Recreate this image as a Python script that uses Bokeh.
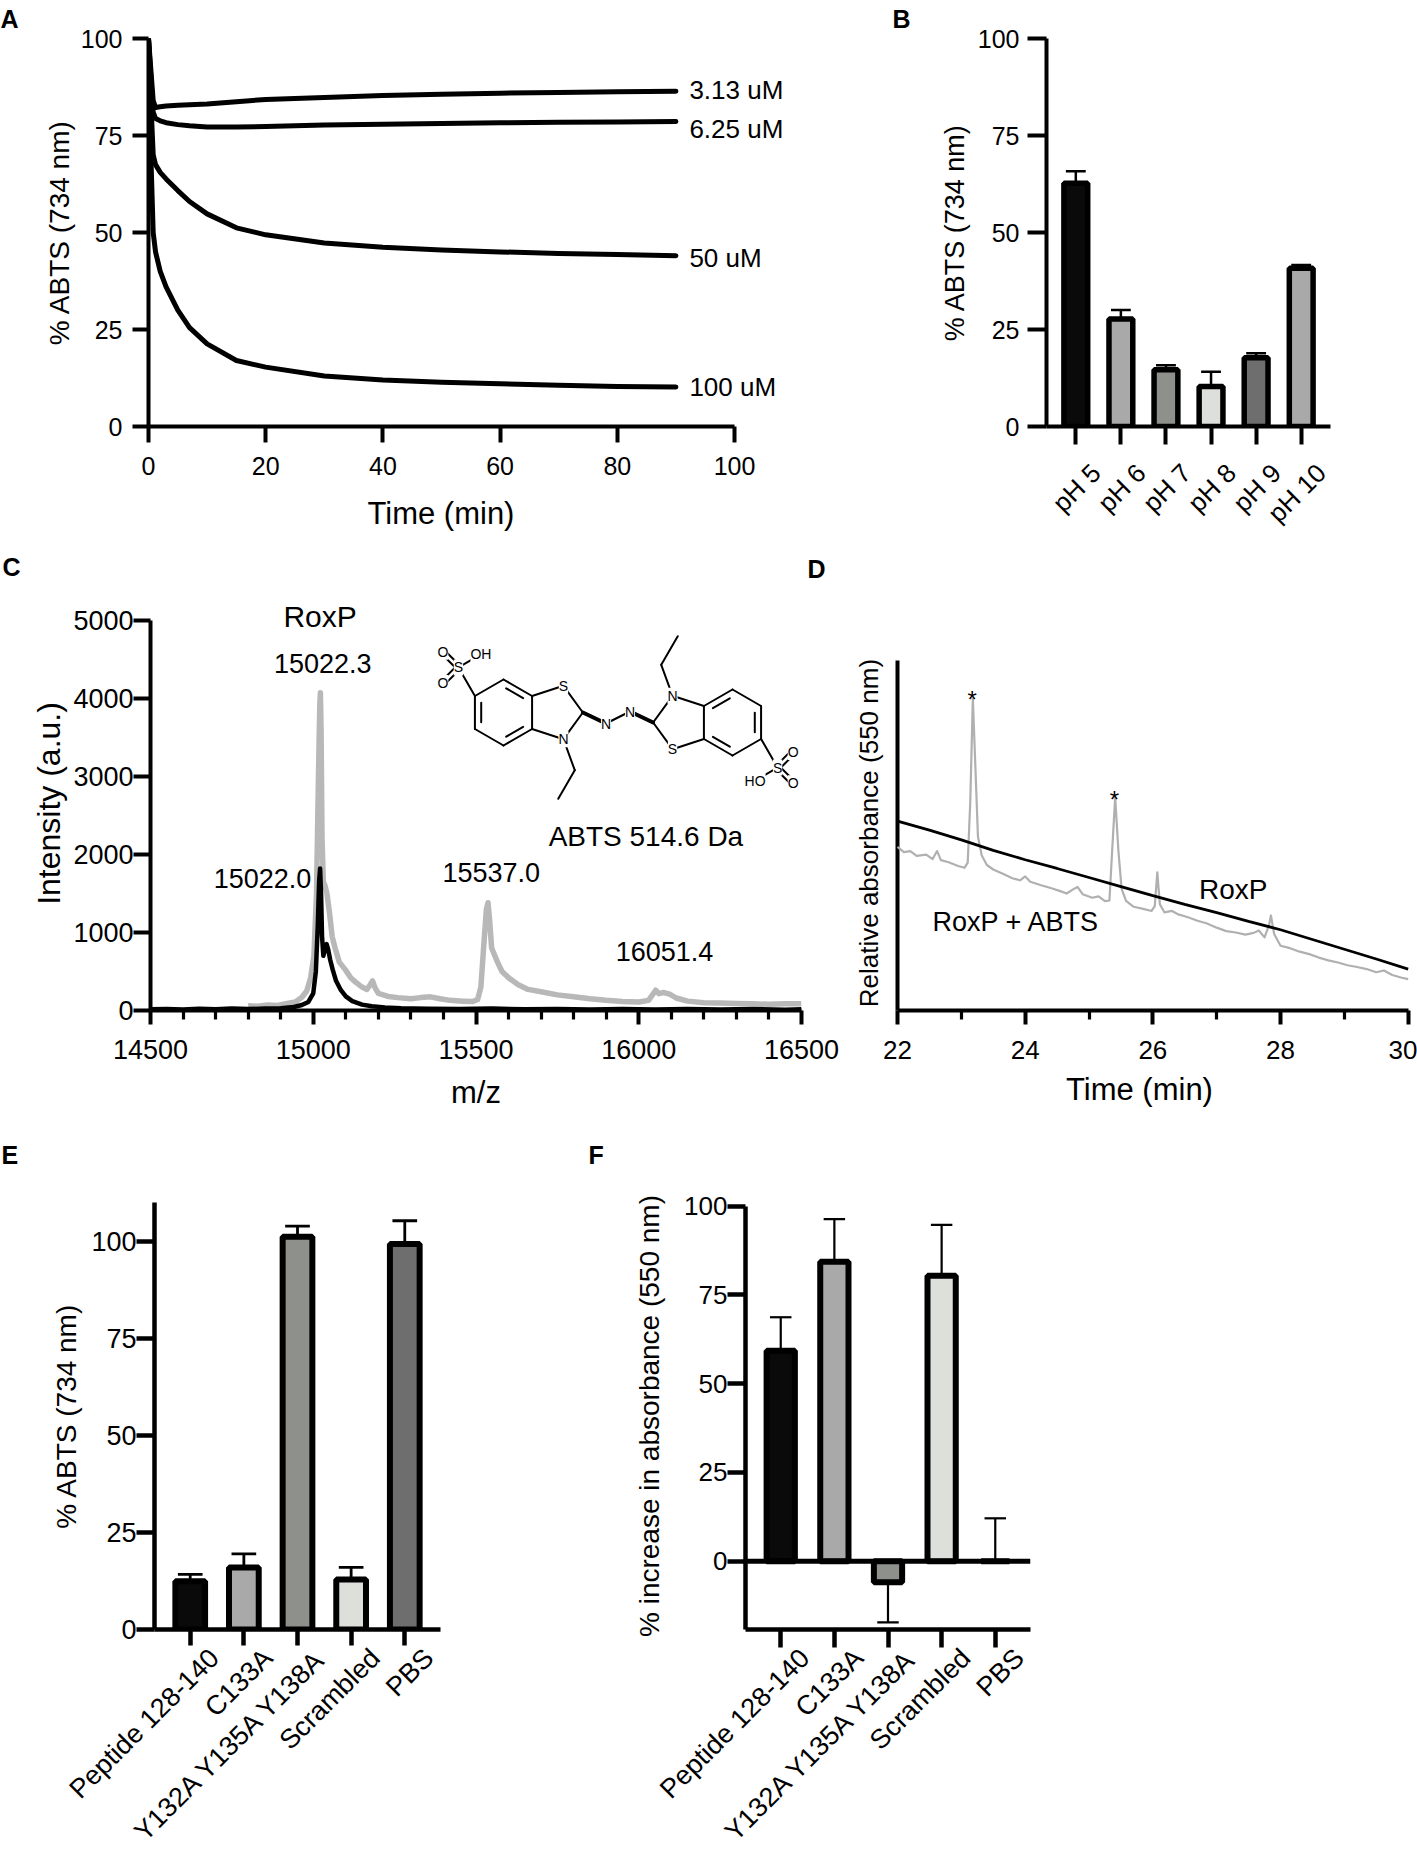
import math
from bokeh.plotting import figure
from bokeh.models import Range1d, FixedTicker, Label, Span, Title, LinearAxis
from bokeh.layouts import column, row
from bokeh.embed import file_html
from bokeh.resources import INLINE

FONT = "Liberation Sans"

# ---------------- data ----------------
# Panel A
a_time = [0, 0.4, 0.8, 1.2, 2, 3, 5, 7, 10, 15, 20, 30, 40, 50, 60, 70, 80, 90]
a_3_13uM = [100, 92, 84, 82.2, 82.4, 82.6, 82.8, 82.9, 83.1, 83.7, 84.3, 84.8, 85.3, 85.6, 85.9, 86.1, 86.3, 86.4]
a_6_25uM = [100, 90, 81, 79.4, 78.8, 78.3, 77.8, 77.5, 77.2, 77.2, 77.3, 77.7, 77.9, 78.1, 78.3, 78.4, 78.5, 78.6]
a_50uM = [100, 84, 70, 67.5, 65.5, 63.8, 60.8, 58.0, 54.8, 51.2, 49.4, 47.3, 46.2, 45.5, 45.0, 44.6, 44.3, 44.0]
a_100uM = [100, 70, 50, 45, 40, 36, 30, 25.5, 21.3, 17.0, 15.3, 13.0, 12.0, 11.4, 11.0, 10.6, 10.3, 10.2]
a_series = [a_3_13uM, a_6_25uM, a_50uM, a_100uM]
a_names = ["3.13 uM", "6.25 uM", "50 uM", "100 uM"]
a_name_y = [86.8, 76.7, 43.4, 10.3]
a_name_x = 92.3

# Panel B
b_cats = ["pH 5", "pH 6", "pH 7", "pH 8", "pH 9", "pH 10"]
b_vals = [62.7, 27.7, 14.6, 10.3, 17.7, 40.8]
b_err_end = [65.8, 30.0, 15.8, 14.1, 18.9, 41.6]
b_colors = ["#0a0a0a", "#a9a9a9", "#8e908b", "#dcdfda", "#6e6e6e", "#a9a9a9"]

# Panel C (mass spectra)
c_gray_mz = [14800, 14830, 14860, 14890, 14920, 14945, 14965, 14980, 14992, 15002, 15010, 15016, 15020, 15022,
             15024, 15027, 15031, 15036, 15042, 15050, 15058, 15067, 15080, 15099, 15115, 15131, 15150, 15165,
             15175, 15182, 15190, 15200, 15230, 15260, 15300, 15330, 15360, 15390, 15420, 15460, 15490, 15505,
             15515, 15525, 15532, 15537, 15542, 15548, 15556, 15566, 15580, 15600, 15630, 15660, 15700, 15750,
             15800, 15850, 15900, 15950, 16000, 16030, 16042, 16052, 16062, 16075, 16095, 16115, 16150, 16200,
             16250, 16300, 16350, 16400, 16450, 16500]
c_gray_int = [60, 55, 70, 65, 90, 110, 170, 250, 420, 700, 1500, 3000, 3900, 4070,
              3600, 2200, 1650, 1600, 1500, 1250, 950, 800, 620, 520, 420, 360, 300, 270,
              330, 380, 290, 220, 180, 165, 150, 165, 175, 150, 130, 120, 115, 140,
              300, 900, 1300, 1380, 1150, 800, 720, 620, 500, 420, 330, 270, 240, 200,
              175, 150, 130, 115, 110, 130, 200, 260, 215, 230, 210, 160, 120, 100,
              95, 90, 85, 80, 88, 85]
c_black_mz = [14500, 14550, 14600, 14650, 14700, 14750, 14800, 14850, 14900, 14940, 14965, 14985, 15000, 15008,
              15014, 15018, 15021, 15024, 15027, 15031, 15036, 15041, 15046, 15052, 15060, 15070, 15085, 15100,
              15120, 15150, 15180, 15220, 15270, 15350, 15450, 15550, 15650, 15750, 15850, 15950, 16050, 16150,
              16250, 16350, 16450, 16500]
c_black_int = [15, 20, 12, 22, 15, 25, 18, 25, 30, 45, 70, 110, 220, 500,
               1100, 1650, 1820, 1500, 950, 700, 780, 850, 780, 650, 520, 380, 260, 180,
               120, 75, 55, 40, 30, 22, 18, 25, 15, 20, 12, 18, 14, 20,
               12, 18, 10, 15]
c_peak_text = ["15022.3", "15022.0", "15537.0", "16051.4"]
c_peak_mz = [15029, 14844, 15547, 16079]
c_peak_int = [4450, 1690, 1770, 754]

# Panel D (chromatograms)
d_roxp_t = [22.0, 22.5, 23.0, 23.5, 24.0, 24.5, 25.0, 25.5, 26.0, 26.5, 27.0, 27.5, 28.0, 28.5, 29.0, 29.5, 30.0]
d_roxp_v = [54.4, 51.8, 49.0, 46.0, 43.3, 40.8, 38.2, 35.6, 33.0, 30.5, 28.1, 25.6, 23.2, 20.4, 17.6, 14.8, 11.9]
d_abts_t = [22.00, 22.10, 22.20, 22.30, 22.45, 22.55, 22.62, 22.68, 22.80, 22.95, 23.05, 23.10, 23.14, 23.18,
            23.22, 23.26, 23.32, 23.40, 23.50, 23.65, 23.80, 23.92, 24.00, 24.08, 24.25, 24.40, 24.55, 24.65,
            24.75, 24.82, 24.90, 25.05, 25.15, 25.25, 25.32, 25.36, 25.41, 25.46, 25.51, 25.58, 25.70, 25.85,
            25.98, 26.03, 26.07, 26.11, 26.18, 26.30, 26.40, 26.55, 26.70, 26.85, 27.00, 27.15, 27.30, 27.45,
            27.58, 27.66, 27.75, 27.82, 27.85, 27.90, 28.00, 28.15, 28.30, 28.45, 28.60, 28.75, 28.90, 29.05,
            29.20, 29.35, 29.50, 29.62, 29.75, 29.90, 30.00]
d_abts_v = [47.0, 45.5, 45.8, 44.4, 44.8, 43.5, 45.8, 43.2, 42.6, 41.5, 41.0, 42.5, 60.0, 89.7,
            70.0, 50.0, 44.5, 41.8, 40.5, 39.3, 38.0, 37.4, 38.5, 37.0, 36.0, 35.2, 34.3, 33.6,
            34.8, 35.5, 33.4, 32.4, 32.8, 31.4, 31.6, 45.0, 61.3, 46.0, 35.0, 31.5, 29.8, 29.2,
            28.6, 30.0, 39.7, 30.5, 28.2, 28.6, 27.6, 26.8, 25.8, 25.0, 23.8, 22.8, 22.4, 21.8,
            22.3, 23.0, 21.0, 24.5, 27.3, 22.0, 18.6, 17.9, 16.9, 16.2, 15.2, 14.4, 13.8, 13.0,
            12.5, 11.9, 11.0, 11.5, 10.2, 9.4, 9.0]
d_axis_top = 100
d_star_t = [23.17, 25.40]
d_star_v = [89.3, 60.7]

# Panels E and F
ef_cats = ["Peptide 128-140", "C133A", "Y132A Y135A Y138A", "Scrambled", "PBS"]
ef_colors = ["#0a0a0a", "#a9a9a9", "#8e908b", "#dcdfda", "#6e6e6e"]
e_vals = [12.4, 16.0, 101.2, 12.9, 99.3]
e_err_end = [14.2, 19.5, 103.9, 16.0, 105.3]
f_vals = [59.3, 84.3, -5.9, 80.4, 0.0]
f_err_end = [68.7, 96.3, -17.2, 94.7, 12.1]

# ---------------- helpers ----------------
GEOM = {}


def make_fig(name, fx, fy, W, H, L, T, Rb, Bb, xr, yr):
    p = figure(width=W, height=H, x_range=Range1d(*xr), y_range=Range1d(*yr),
               min_border_left=L, min_border_top=T, min_border_right=Rb, min_border_bottom=Bb,
               toolbar_location=None, tools="", output_backend="svg", title=None)
    p.outline_line_color = None
    p.xgrid.visible = False
    p.ygrid.visible = False
    p.background_fill_color = "white"
    p.border_fill_color = "white"
    GEOM[name] = dict(fx=fx, fy=fy, L=L, T=T, R=W - Rb, B=H - Bb, xr=xr, yr=yr)
    return p


def ref2data(name, rx, ry):
    g = GEOM[name]
    px, py = rx - g["fx"], ry - g["fy"]
    x = g["xr"][0] + (px - g["L"]) / (g["R"] - g["L"]) * (g["xr"][1] - g["xr"][0])
    y = g["yr"][1] - (py - g["T"]) / (g["B"] - g["T"]) * (g["yr"][1] - g["yr"][0])
    return x, y


def style_axis(ax, lw=4, tick_out=16, tick_size=25, label_size=28, lab_std=10, label_std=8, minor_out=0):
    ax.axis_line_width = lw
    ax.axis_line_color = "black"
    ax.major_tick_line_width = lw
    ax.major_tick_line_color = "black"
    ax.major_tick_in = 0
    ax.major_tick_out = tick_out
    if minor_out:
        ax.minor_tick_line_width = lw * 0.8
        ax.minor_tick_line_color = "black"
        ax.minor_tick_in = 0
        ax.minor_tick_out = minor_out
    else:
        ax.minor_tick_line_color = None
    ax.major_label_text_font = FONT
    ax.major_label_text_font_size = f"{tick_size}px"
    ax.major_label_text_color = "black"
    ax.major_label_standoff = lab_std
    ax.axis_label_text_font = FONT
    ax.axis_label_text_font_size = f"{label_size}px"
    ax.axis_label_text_font_style = "normal"
    ax.axis_label_text_color = "black"
    ax.axis_label_standoff = label_std


def add_text(p, x, y, text, size, align="center", baseline="middle", bold=False, bg=None, angle=0):
    kw = {}
    if bg:
        kw["background_fill_color"] = bg
    p.add_layout(Label(x=x, y=y, text=text, text_font=FONT, text_font_size=f"{size}px",
                       text_align=align, text_baseline=baseline, text_color="black", angle=angle,
                       text_font_style="bold" if bold else "normal", **kw))


def bars(p, vals, ends, colors, width, lw, cap_half, err_lw):
    idx = list(range(len(vals)))
    p.vbar(x=idx, top=vals, bottom=0, width=width, fill_color=colors, line_color="black", line_width=lw)
    p.segment(x0=idx, y0=vals, x1=idx, y1=ends, line_color="black", line_width=err_lw)
    p.segment(x0=[i - cap_half for i in idx], y0=ends, x1=[i + cap_half for i in idx], y1=ends,
              line_color="black", line_width=err_lw)


def category_axes(p, cats, lw, tick_out, size, std, shift=0.45):
    idx = list(range(len(cats)))
    ax = p.xaxis[0]
    # tick marks at the bar centres (drawn as minor ticks so that this axis carries no labels)
    ax.ticker = FixedTicker(ticks=[], minor_ticks=idx)
    ax.axis_line_width = lw
    ax.axis_line_color = "black"
    ax.major_tick_line_color = None
    ax.minor_tick_line_color = "black"
    ax.minor_tick_line_width = lw
    ax.minor_tick_in = 0
    ax.minor_tick_out = tick_out
    ax.major_tick_out = 0
    ax.major_label_standoff = 0
    pos = [round(i + shift, 2) for i in idx]
    ax2 = LinearAxis(ticker=FixedTicker(ticks=pos),
                     major_label_overrides={v: c for v, c in zip(pos, cats)})
    ax2.axis_line_color = None
    ax2.major_tick_line_color = None
    ax2.minor_tick_line_color = None
    ax2.major_tick_out = 0
    ax2.major_tick_in = 0
    ax2.major_label_orientation = math.pi / 4
    ax2.major_label_text_font = FONT
    ax2.major_label_text_font_size = f"{size}px"
    ax2.major_label_text_color = "black"
    ax2.major_label_standoff = std
    p.add_layout(ax2, "below")


def letter_title(p, text, offset):
    p.add_layout(Title(text=text, align="left", offset=offset, standoff=8, vertical_align="top",
                       text_font=FONT, text_font_size="25px", text_font_style="bold",
                       text_color="black"), "above")


def below_title(p, text, offset, standoff, size, valign):
    p.add_layout(Title(text=text, align="left", offset=offset, standoff=standoff, vertical_align=valign,
                       text_font=FONT, text_font_size=f"{size}px", text_font_style="normal",
                       text_color="black"), "below")


def strip(H, items):
    p = figure(width=1417, height=H, x_range=Range1d(0, 1417), y_range=Range1d(H, 0),
               min_border=0, toolbar_location=None, tools="", output_backend="svg", title=None,
               x_axis_type=None, y_axis_type=None)
    p.outline_line_color = None
    p.background_fill_color = "white"
    p.border_fill_color = "white"
    for t, x, y in items:
        add_text(p, x, y, t, 25, align="left", baseline="top", bold=True)
    return p


# ---------------- Panel A ----------------
pA = make_fig("A", 0, 0, 870, 554, 148, 36, 70, 128, (0, 111.26), (0, 100))
pA.xaxis.ticker = FixedTicker(ticks=[0, 20, 40, 60, 80, 100])
pA.xaxis.bounds = (0, 100)
pA.yaxis.ticker = FixedTicker(ticks=[0, 25, 50, 75, 100])
pA.yaxis.axis_label = "% ABTS (734 nm)"
style_axis(pA.xaxis[0], tick_out=16, tick_size=25, lab_std=14)
style_axis(pA.yaxis[0], tick_out=16, tick_size=25, label_size=28, lab_std=10, label_std=3)
below_title(pA, "Time (min)", 219, 32, 31, "bottom")
letter_title(pA, "A", -148)
for s in a_series:
    pA.line(a_time, s, line_width=5, line_color="black", line_join="round", line_cap="round")
for name, yy in zip(a_names, a_name_y):
    add_text(pA, a_name_x, yy, name, 26, align="left")

# ---------------- Panel B ----------------
pB = make_fig("B", 870, 0, 547, 554, 176, 36, 87, 128, (-0.65, 5.65), (0, 100))
pB.yaxis.ticker = FixedTicker(ticks=[0, 25, 50, 75, 100])
pB.yaxis.axis_label = "% ABTS (734 nm)"
category_axes(pB, b_cats, 4, 18, 26, 24)
style_axis(pB.yaxis[0], tick_out=19, tick_size=25, label_size=27, lab_std=8, label_std=5)
letter_title(pB, "B", -154)
bars(pB, b_vals, b_err_end, b_colors, 0.528, 5.5, 0.22, 2.5)

# ---------------- strip with letters C, D ----------------
strip2 = strip(34, [("C", 2, -2), ("D", 807, 0)])

# ---------------- Panel C ----------------
pC = make_fig("C", 0, 588, 840, 542, 150, 8, 39, 120, (14500, 16500), (0, 5302))
c_major = [14500, 15000, 15500, 16000, 16500]
c_minor = [m for m in range(14600, 16500, 100) if m % 500 != 0]
pC.xaxis.ticker = FixedTicker(ticks=c_major, minor_ticks=c_minor)
pC.yaxis.ticker = FixedTicker(ticks=[0, 1000, 2000, 3000, 4000, 5000])
pC.yaxis.bounds = (0, 5000)
pC.xaxis.axis_label = "m/z"
pC.yaxis.axis_label = "Intensity (a.u.)"
style_axis(pC.xaxis[0], tick_out=14, minor_out=9, tick_size=27, label_size=31, lab_std=15, label_std=13)
style_axis(pC.yaxis[0], tick_out=17, tick_size=27, label_size=32, lab_std=0, label_std=3)
pC.line(c_gray_mz, c_gray_int, line_width=5.5, line_color="#b8b8b8", line_join="round")
pC.line(c_black_mz, c_black_int, line_width=4.5, line_color="black", line_join="round")
add_text(pC, 15021, 5040, "RoxP", 30)
for t, mz, it in zip(c_peak_text, c_peak_mz, c_peak_int):
    add_text(pC, mz, it, t, 27)
add_text(pC, 16022, 2230, "ABTS 514.6 Da", 28)

# ABTS structure drawing (geometry in reference pixels, mapped to panel C data space)
bond = 33.0
cxL, cyL = 503.0, 712.0
ringL = [(cxL + bond * math.cos(math.radians(a)), cyL - bond * math.sin(math.radians(a)))
         for a in (90, 30, -30, -90, -150, 150)]
apo = bond / (2 * math.tan(math.radians(36)))
circ = bond / (2 * math.sin(math.radians(36)))
pcx = ringL[1][0] + apo


def pent(a):
    return (pcx + circ * math.cos(math.radians(a)), cyL - circ * math.sin(math.radians(a)))


def polar(pnt, ang, r):
    return (pnt[0] + r * math.cos(math.radians(ang)), pnt[1] - r * math.sin(math.radians(ang)))


S1, C2, N1 = pent(72), pent(0), pent(288)
Mid = (617.5, 717.0)
Na = (Mid[0] - 12, Mid[1] + 6)
Nb = (Mid[0] + 12, Mid[1] - 6)
Ssul = polar(ringL[5], 120, bond)
O1 = polar(Ssul, 135, 22)
O2 = polar(Ssul, 225, 22)
OHp = polar(Ssul, 30, 26)
CH2 = polar(N1, -70, bond)
CH3 = polar(CH2, -120, bond)


def refl(pt):
    return (2 * Mid[0] - pt[0], 2 * Mid[1] - pt[1])


def offset_pair(a, b, d):
    dx, dy = b[0] - a[0], b[1] - a[1]
    L = math.hypot(dx, dy)
    nx, ny = -dy / L * d, dx / L * d
    return ((a[0] + nx, a[1] + ny), (b[0] + nx, b[1] + ny))


def inner_line(i, j):
    a = (cxL + (ringL[i][0] - cxL) * 0.78, cyL + (ringL[i][1] - cyL) * 0.78)
    b = (cxL + (ringL[j][0] - cxL) * 0.78, cyL + (ringL[j][1] - cyL) * 0.78)
    dx, dy = b[0] - a[0], b[1] - a[1]
    return ((a[0] + 0.12 * dx, a[1] + 0.12 * dy), (b[0] - 0.12 * dx, b[1] - 0.12 * dy))


half_single = [(ringL[k], ringL[(k + 1) % 6]) for k in range(6)]
half_single += [(ringL[1], S1), (S1, C2), (C2, N1), (N1, ringL[2]), (N1, CH2), (CH2, CH3),
                (ringL[5], Ssul), (Ssul, OHp)]
half_single += [inner_line(5, 4), inner_line(0, 1), inner_line(2, 3)]
for o in (O1, O2):
    half_single += [offset_pair(Ssul, o, 2.3), offset_pair(Ssul, o, -2.3)]
half_bold = [(C2, Na)]
all_single = half_single + [(refl(a), refl(b)) for a, b in half_single] + [(Na, Nb)]
all_bold = half_bold + [(refl(a), refl(b)) for a, b in half_bold]


def draw_bonds(pairs, lw):
    x0, y0, x1, y1 = [], [], [], []
    for a, b in pairs:
        da = ref2data("C", *a)
        db = ref2data("C", *b)
        x0.append(da[0]); y0.append(da[1]); x1.append(db[0]); y1.append(db[1])
    pC.segment(x0=x0, y0=y0, x1=x1, y1=y1, line_color="black", line_width=lw, line_cap="round")


draw_bonds(all_single, 2.0)
draw_bonds(all_bold, 4)
atoms = [(S1, "S"), (N1, "N"), (Ssul, "S"), (O1, "O"), (O2, "O"), (OHp, "OH"), (Na, "N"),
         (refl(S1), "S"), (refl(N1), "N"), (refl(Ssul), "S"), (refl(O1), "O"), (refl(O2), "O"),
         (refl(OHp), "HO"), (Nb, "N")]
for pt, t in atoms:
    dx, dy = ref2data("C", *pt)
    add_text(pC, dx, dy, t, 14, bg="white")

# ---------------- Panel D ----------------
pD = make_fig("D", 840, 588, 577, 542, 0, 8, 0, 120, (21.107, 30.146), (0, 118.93))
pD.xaxis.ticker = FixedTicker(ticks=[22, 24, 26, 28, 30], minor_ticks=[23, 25, 27, 29])
pD.xaxis.bounds = (22, 30)
pD.yaxis.visible = False
style_axis(pD.xaxis[0], tick_out=14, minor_out=9, tick_size=26, lab_std=16)
below_title(pD, "Time (min)", 225.5, 21, 31, "top")
pD.segment(x0=[d_roxp_t[0]], y0=[0], x1=[d_roxp_t[0]], y1=[d_axis_top], line_color="black",
           line_width=4, line_cap="square")
pD.line(d_abts_t, d_abts_v, line_width=2.2, line_color="#b0b0b0", line_join="round")
pD.line(d_roxp_t, d_roxp_v, line_width=2.8, line_color="black")
for t, v in zip(d_star_t, d_star_v):
    add_text(pD, t, v, "*", 24, baseline="alphabetic")
add_text(pD, 27.26, 34.9, "RoxP", 28)
add_text(pD, 23.86, 25.3, "RoxP + ABTS", 27)
add_text(pD, 21.561, 52.0, "Relative  absorbance (550 nm)", 26, angle=math.pi / 2)

# ---------------- strip with letters E, F ----------------
strip3 = strip(45, [("E", 1, 10), ("F", 588, 10)])

# ---------------- Panel E ----------------
pE = make_fig("E", 0, 1175, 618, 685, 154, 27, 178, 228, (-0.666, 4.666), (0, 110))
pE.yaxis.ticker = FixedTicker(ticks=[0, 25, 50, 75, 100])
pE.yaxis.axis_label = "% ABTS (734 nm)"
category_axes(pE, ef_cats, 4.5, 16, 27, 8)
style_axis(pE.yaxis[0], lw=4.5, tick_out=18, tick_size=27, label_size=28, lab_std=0, label_std=6)
bars(pE, e_vals, e_err_end, ef_colors, 0.554, 6, 0.23, 2.8)

# ---------------- Panel F ----------------
pF = make_fig("F", 618, 1175, 799, 685, 127, 27, 387, 228, (-0.657, 4.657), (-19.2, 101.0))
pF.yaxis.ticker = FixedTicker(ticks=[0, 25, 50, 75, 100])
pF.yaxis.bounds = (-19.2, 100)
pF.yaxis.axis_label = "% increase in absorbance (550 nm)"
category_axes(pF, ef_cats, 4.5, 18, 27, 6)
style_axis(pF.yaxis[0], lw=4.5, tick_out=18, tick_size=26, label_size=28, lab_std=0, label_std=16)
pF.add_layout(Span(location=0, dimension="width", line_color="black", line_width=5))
bars(pF, f_vals, f_err_end, ef_colors, 0.527, 6, 0.2, 2.2)

layout = column(row(pA, pB), strip2, row(pC, pD), strip3, row(pE, pF))
open("out.html", "w").write(file_html(layout, INLINE))
